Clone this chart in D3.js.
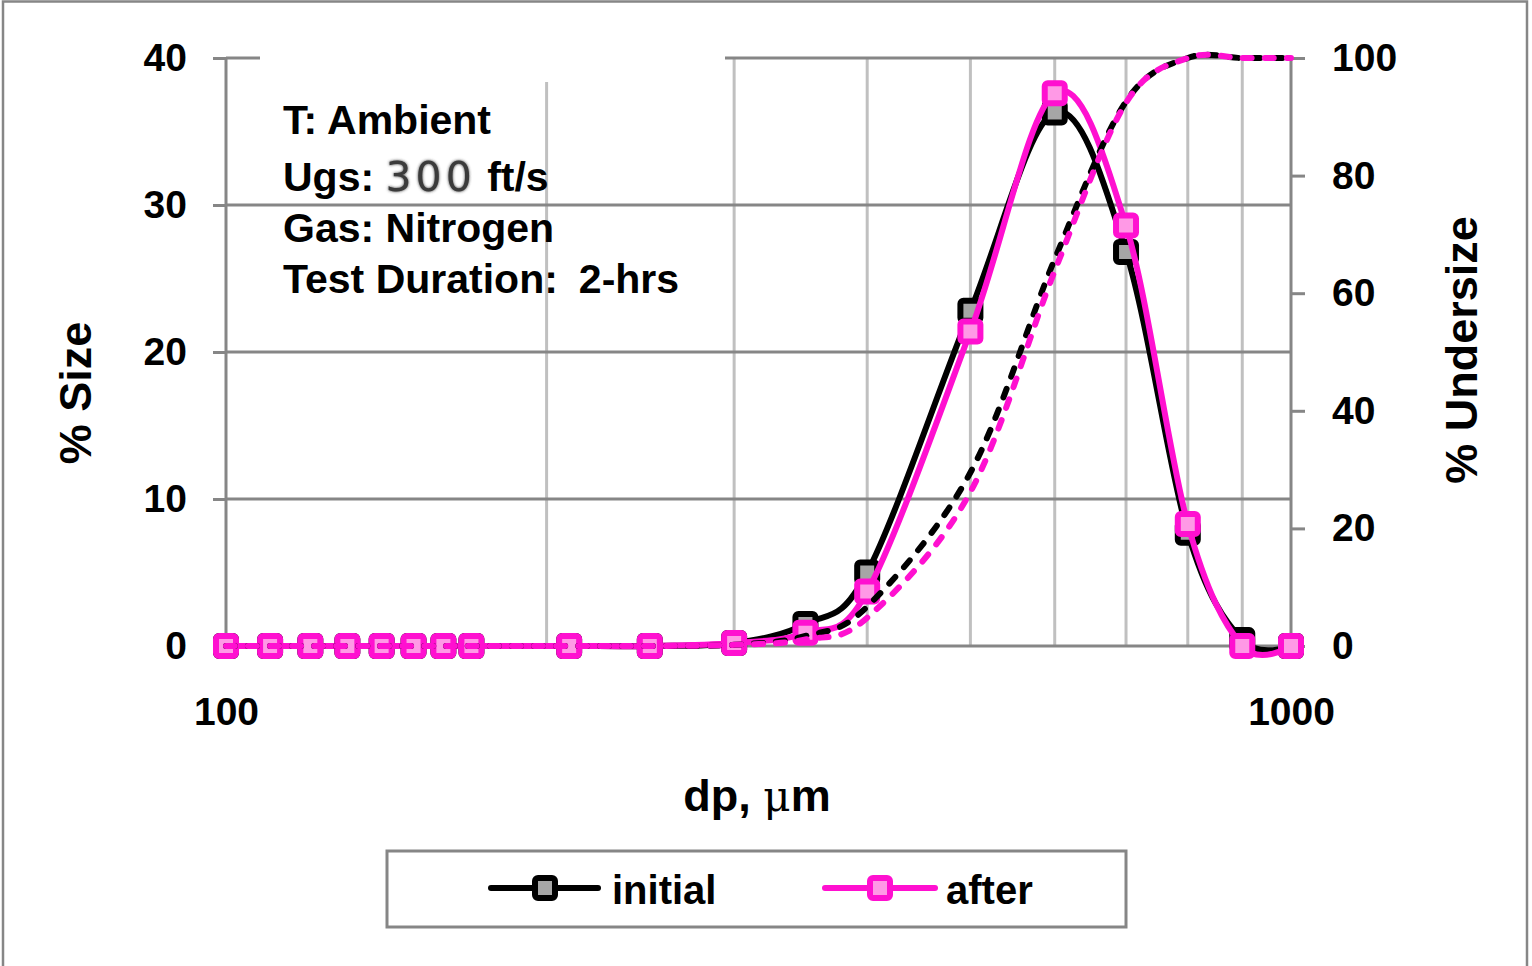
<!DOCTYPE html>
<html>
<head>
<meta charset="utf-8">
<script src="https://cdn.jsdelivr.net/npm/d3@7"></script>
<style>
  html, body { margin: 0; padding: 0; background: #fff; }
  svg { display: block; }
  text { font-family: "Liberation Sans", Arial, sans-serif; font-weight: bold; fill: #000; }
</style>
</head>
<body>
<svg id="chart" width="1532" height="966"></svg>
<script>
// ---- data ----
const dp = [100, 110, 120, 130, 140, 150, 160, 170, 210, 250, 300, 350, 400, 500, 600, 700, 800, 900, 1000];
const initialSize = [0, 0, 0, 0, 0, 0, 0, 0, 0, 0, 0.2, 1.5, 5.0, 22.8, 36.3, 26.8, 7.7, 0.4, 0];
const afterSize   = [0, 0, 0, 0, 0, 0, 0, 0, 0, 0, 0.2, 0.9, 3.7, 21.4, 37.6, 28.6, 8.3, 0, 0];
const initialUndersize = [0, 0, 0, 0, 0, 0, 0, 0, 0, 0, 0.2, 1.7, 6.7, 29.5, 65.8, 92.6, 100, 100, 100];
const afterUndersize   = [0, 0, 0, 0, 0, 0, 0, 0, 0, 0, 0.2, 1.1, 4.8, 26.2, 63.8, 92.4, 100, 100, 100];
const leftTicks = [0, 10, 20, 30, 40];
const rightTicks = [0, 20, 40, 60, 80, 100];
const xTickLabels = [100, 1000];
const xGrid = [200, 300, 400, 500, 600, 700, 800, 900];
const seriesNames = ["initial", "after"];
const annotation = ["T: Ambient", "Ugs: ", "Gas: Nitrogen", "Test Duration: 2-hrs"];

// ---- layout ----
const L = 226, R = 1291, T = 58, B = 646;
const x = d3.scaleLog().domain([100, 1000]).range([L, R]);
const yL = d3.scaleLinear().domain([0, 40]).range([B, T]);
const yR = d3.scaleLinear().domain([0, 100]).range([B, T]);

const svg = d3.select("#chart");
const axisGray = "#868686";
const gridLight = "#c0c0c0";
const black = "#000000", grayFill = "#a6a6a6";
const pink = "#ff10d0", pinkFill = "#ff99e6";
const LW = 6, MS = 20, MSW = 6;

// outer border
svg.append("rect").attr("x", 3).attr("y", 1.5).attr("width", 1524).attr("height", 970)
  .attr("fill", "none").attr("stroke", axisGray).attr("stroke-width", 2.5);

// vertical minor grid
svg.append("g").selectAll("line").data(xGrid).join("line")
  .attr("x1", d => x(d)).attr("x2", d => x(d)).attr("y1", T).attr("y2", B)
  .attr("stroke", gridLight).attr("stroke-width", 3);

// horizontal grid
svg.append("g").selectAll("line").data(leftTicks).join("line")
  .attr("x1", L).attr("x2", R).attr("y1", d => yL(d)).attr("y2", d => yL(d))
  .attr("stroke", axisGray).attr("stroke-width", 3);

// white annotation box (covers the top of the grid)
svg.append("rect").attr("x", 260).attr("y", 45).attr("width", 465).attr("height", 37).attr("fill", "#fff");

// left axis
const gL = svg.append("g").attr("transform", `translate(${L},0)`)
  .call(d3.axisLeft(yL).tickValues(leftTicks).tickSizeInner(13).tickSizeOuter(0).tickPadding(26));
gL.select(".domain").remove();
gL.selectAll("line").attr("stroke", axisGray).attr("stroke-width", 3);
gL.selectAll("text").attr("font-size", 39).attr("font-family", null).attr("fill", "#000");
svg.append("line").attr("x1", L).attr("x2", L).attr("y1", T).attr("y2", B)
  .attr("stroke", axisGray).attr("stroke-width", 3);

// right axis
const gR = svg.append("g").attr("transform", `translate(${R},0)`)
  .call(d3.axisRight(yR).tickValues(rightTicks).tickSizeInner(14).tickSizeOuter(0).tickPadding(27));
gR.select(".domain").remove();
gR.selectAll("line").attr("stroke", axisGray).attr("stroke-width", 3);
gR.selectAll("text").attr("font-size", 39).attr("font-family", null).attr("fill", "#000");
svg.append("line").attr("x1", R).attr("x2", R).attr("y1", T).attr("y2", B)
  .attr("stroke", axisGray).attr("stroke-width", 3);

// bottom axis labels
const gB = svg.append("g").attr("transform", `translate(0,${B})`)
  .call(d3.axisBottom(x).tickValues(xTickLabels).tickSize(0).tickPadding(51).tickFormat(d3.format("d")));
gB.select(".domain").remove();
gB.selectAll("text").attr("font-size", 39).attr("font-family", null).attr("fill", "#000");

// ---- series ----
const lineL = d3.line().x((d, i) => x(dp[i])).y(d => yL(d)).curve(d3.curveCardinal.tension(0));
const lineR = d3.line().x((d, i) => x(dp[i])).y(d => yR(d)).curve(d3.curveCardinal.tension(0));

function markers(vals, stroke, fill) {
  svg.append("g").selectAll("rect").data(vals).join("rect")
    .attr("x", (d, i) => x(dp[i]) - MS / 2).attr("y", d => yL(d) - MS / 2)
    .attr("width", MS).attr("height", MS).attr("rx", 3)
    .attr("fill", fill).attr("stroke", stroke).attr("stroke-width", MSW);
}

svg.append("path").datum(initialSize).attr("d", lineL).attr("fill", "none")
  .attr("stroke", black).attr("stroke-width", LW).attr("stroke-linejoin", "round");
markers(initialSize, black, grayFill);
svg.append("path").datum(afterSize).attr("d", lineL).attr("fill", "none")
  .attr("stroke", pink).attr("stroke-width", LW).attr("stroke-linejoin", "round");
markers(afterSize, pink, pinkFill);

svg.append("path").datum(initialUndersize).attr("d", lineR).attr("fill", "none")
  .attr("stroke", black).attr("stroke-width", LW).attr("stroke-dasharray", "9,13").attr("stroke-linecap", "round");
svg.append("path").datum(afterUndersize).attr("d", lineR).attr("fill", "none")
  .attr("stroke", pink).attr("stroke-width", LW).attr("stroke-dasharray", "9,13").attr("stroke-linecap", "round");

// ---- annotation ----
const defs = svg.append("defs");
const f = defs.append("filter").attr("id", "soft").attr("x", "-20%").attr("y", "-20%").attr("width", "140%").attr("height", "140%");
f.append("feGaussianBlur").attr("in", "SourceGraphic").attr("stdDeviation", 1.6).attr("result", "b");
const fm = f.append("feMerge");
fm.append("feMergeNode").attr("in", "b");
fm.append("feMergeNode").attr("in", "SourceGraphic");

const annY = [134, 191, 242, 293];
annotation.forEach((t, i) => {
  const tx = svg.append("text").attr("x", 283).attr("y", annY[i]).attr("font-size", 41)
    .style("white-space", "pre");
  if (i === 3) {
    tx.append("tspan").text("Test Duration:");
    tx.append("tspan").attr("dx", 21).text("2-hrs");
  } else {
    tx.text(t);
  }
  if (i === 1) {
    tx.append("tspan").attr("font-family", "'DejaVu Sans', Verdana, sans-serif").attr("font-weight", "normal")
      .attr("fill", "#3a3a3a").attr("letter-spacing", 4).attr("filter", "url(#soft)").text("300");
    tx.append("tspan").text(" ft/s");
  }
});

// axis titles
svg.append("text").attr("transform", "translate(91,393) rotate(-90)").attr("text-anchor", "middle")
  .attr("font-size", 45).text("% Size");
svg.append("text").attr("transform", "translate(1477,350) rotate(-90)").attr("text-anchor", "middle")
  .attr("font-size", 45).text("% Undersize");
const xt = svg.append("text").attr("x", 757).attr("y", 811).attr("text-anchor", "middle").attr("font-size", 45)
  .style("white-space", "pre");
xt.append("tspan").text("dp, ");
xt.append("tspan").attr("font-weight", "normal").attr("font-family", "'DejaVu Serif', serif").attr("font-size", 42).text("μ");
xt.append("tspan").text("m");

// ---- legend ----
svg.append("rect").attr("x", 387).attr("y", 851).attr("width", 739).attr("height", 76)
  .attr("fill", "#fff").attr("stroke", axisGray).attr("stroke-width", 3);
const legendItems = [
  { name: seriesNames[0], x1: 491, x2: 598, mx: 545, tx: 612, stroke: black, fill: grayFill },
  { name: seriesNames[1], x1: 825, x2: 935, mx: 880, tx: 946, stroke: pink, fill: pinkFill }
];
const ly = 888;
legendItems.forEach(it => {
  svg.append("line").attr("x1", it.x1).attr("x2", it.x2).attr("y1", ly).attr("y2", ly)
    .attr("stroke", it.stroke).attr("stroke-width", LW).attr("stroke-linecap", "round");
  svg.append("rect").attr("x", it.mx - MS / 2).attr("y", ly - MS / 2).attr("width", MS).attr("height", MS).attr("rx", 3)
    .attr("fill", it.fill).attr("stroke", it.stroke).attr("stroke-width", MSW);
  svg.append("text").attr("x", it.tx).attr("y", ly + 16).attr("font-size", 40).text(it.name);
});
</script>
</body>
</html>
